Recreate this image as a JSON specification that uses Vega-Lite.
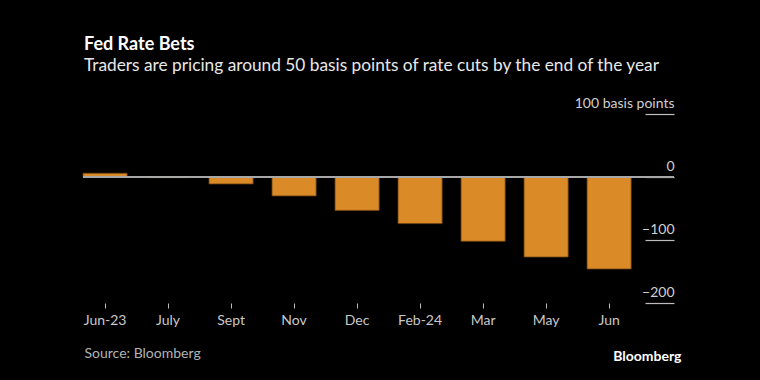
{
  "$schema": "https://vega.github.io/schema/vega-lite/v6.json",
  "autosize": "none",
  "width": 591,
  "height": 189,
  "padding": {"left": 83, "top": 114, "right": 86, "bottom": 77},
  "background": "#000000",
  "view": {"stroke": null},
  "title": {
    "text": "Fed Rate Bets",
    "subtitle": "Traders are pricing around 50 basis points of rate cuts by the end of the year",
    "anchor": "start",
    "frame": "group",
    "dx": 1,
    "offset": 22,
    "font": "Lato",
    "fontSize": 18,
    "fontWeight": "bold",
    "color": "#ffffff",
    "subtitleFont": "Lato",
    "subtitleFontSize": 17.3,
    "subtitleColor": "#e8e8e8",
    "subtitlePadding": 3
  },
  "data": {
    "values": [
      {"month": "Jun-23", "bp": 6},
      {"month": "July", "bp": -1},
      {"month": "Sept", "bp": -11},
      {"month": "Nov", "bp": -30},
      {"month": "Dec", "bp": -53},
      {"month": "Feb-24", "bp": -74},
      {"month": "Mar", "bp": -102},
      {"month": "May", "bp": -127},
      {"month": "Jun", "bp": -146}
    ]
  },
  "layer": [
    {
      "mark": {"type": "bar", "color": "#db8a28", "stroke": "#6e4512", "strokeWidth": 0.8},
      "encoding": {
        "x": {
          "field": "month",
          "type": "nominal",
          "sort": null,
          "scale": {"paddingInner": 0.3, "paddingOuter": 0.34, "align": 0},
          "axis": {
            "title": "Source: Bloomberg",
            "titleAnchor": "start",
            "titleAlign": "left",
            "titleX": 1,
            "titleY": 54,
            "titleBaseline": "alphabetic",
            "titleFont": "Lato",
            "titleFontSize": 14,
            "titleFontWeight": "normal",
            "titleColor": "#b4b4b4",
            "domain": false,
            "ticks": true,
            "tickSize": 5,
            "tickColor": "#bdbdbd",
            "tickWidth": 1,
            "labelAngle": 0,
            "labelPadding": 5,
            "labelFont": "Lato",
            "labelFontSize": 14,
            "labelColor": "#c8c8c8",
            "grid": false
          }
        },
        "y": {
          "field": "bp",
          "type": "quantitative",
          "scale": {"domain": [-200, 100], "nice": false, "zero": true},
          "axis": {
            "orient": "left",
            "offset": -591,
            "values": [100, 0, -100, -200],
            "labelExpr": "datum.value == 100 ? '100 basis points' : datum.label",
            "title": "Bloomberg",
            "titleAngle": 0,
            "titleAlign": "right",
            "titleBaseline": "alphabetic",
            "titleX": 7,
            "titleY": 246,
            "titleFont": "Lato",
            "titleFontSize": 14,
            "titleFontWeight": "bold",
            "titleColor": "#ffffff",
            "domain": false,
            "grid": false,
            "ticks": true,
            "tickSize": 29,
            "tickColor": "#bdbdbd",
            "tickWidth": 1.2,
            "labelPadding": -29,
            "labelAlign": "right",
            "labelBaseline": "bottom",
            "labelOffset": -4,
            "labelFont": "Lato",
            "labelFontSize": 14,
            "labelColor": "#d0d0d0"
          }
        }
      }
    },
    {
      "mark": {"type": "rule", "color": "#a8a8a8", "strokeWidth": 1},
      "encoding": {"y": {"datum": 0}}
    }
  ]
}
